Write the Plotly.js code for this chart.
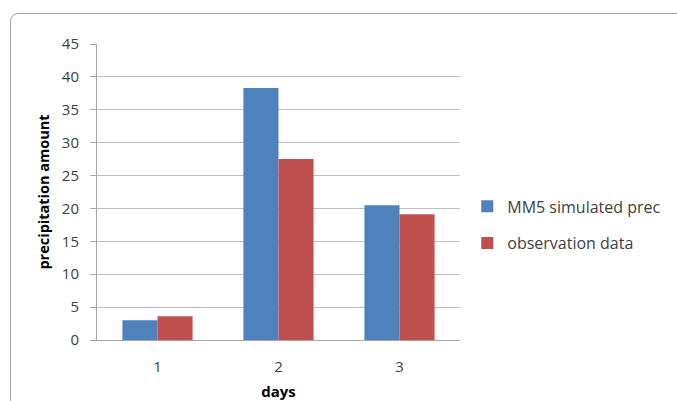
<!DOCTYPE html>
<html>
<head>
<meta charset="utf-8">
<script src="https://cdn.plot.ly/plotly-3.0.1.min.js"></script>
<style>
  html, body { margin: 0; padding: 0; background: #fff; overflow: hidden; }
  #wrap { position: relative; width: 677px; height: 401px; }
  #chart { width: 677px; height: 401px; }
  #frame {
    position: absolute; left: 10px; top: 13px; width: 720px; height: 440px;
    border: 1px solid #a6a6a6; border-radius: 8px; pointer-events: none;
  }
</style>
</head>
<body>
<div id="wrap">
  <div id="chart"></div>
  <div id="frame"></div>
</div>
<script>
// Daily precipitation: MM5 model output vs. observations
const days = ['1', '2', '3'];
const mm5Simulated = [3.0, 38.3, 20.5];
const observed = [3.6, 27.5, 19.1];
const yTicks = [0, 5, 10, 15, 20, 25, 30, 35, 40, 45];

const font = 'Open Sans, Noto Sans, sans-serif';

const traces = [
  {
    type: 'bar', name: 'MM5 simulated prec', x: days, y: mm5Simulated,
    legendgroup: 'mm5', marker: { color: '#4F81BD' }
  },
  {
    type: 'bar', name: 'observation data', x: days, y: observed,
    legendgroup: 'obs', marker: { color: '#C0504D' }
  }
];

const layout = {
  width: 677, height: 401,
  margin: { l: 97, r: 217, t: 44, b: 61, autoexpand: false },
  paper_bgcolor: '#fff', plot_bgcolor: '#fff',
  barmode: 'group', bargap: 0.42, bargroupgap: 0,
  font: { family: font, size: 14, color: '#404040' },
  showlegend: true,
  legend: {
    x: 1.02, y: 0.389, xanchor: 'left', yanchor: 'middle',
    font: { family: font, size: 16, color: '#404040' },
    traceorder: 'grouped', tracegroupgap: 13, itemwidth: 30
  },
  xaxis: {
    type: 'category', showgrid: false, zeroline: false,
    showline: true, linecolor: '#a6a6a6', linewidth: 1,
    ticks: '', ticklabelstandoff: 13,
    tickfont: { family: font, size: 15, color: '#404040' },
    title: { text: 'days', font: { family: font, size: 15, color: '#000', weight: 'bold' }, standoff: 12 }
  },
  yaxis: {
    range: [0, 45], tickvals: yTicks, ticktext: yTicks.map(String),
    showgrid: true, gridcolor: '#bfbfbf', gridwidth: 1, zeroline: false,
    showline: true, linecolor: '#a6a6a6', linewidth: 1,
    ticks: 'outside', ticklen: 6, tickcolor: '#a6a6a6', ticklabelstandoff: 8,
    tickfont: { family: font, size: 15, color: '#404040' },
    title: { text: 'precipitation amount', font: { family: font, size: 14.5, color: '#000', weight: 'bold' }, standoff: 8 }
  }
};

Plotly.newPlot('chart', traces, layout, { displayModeBar: false, staticPlot: true });
</script>
</body>
</html>
